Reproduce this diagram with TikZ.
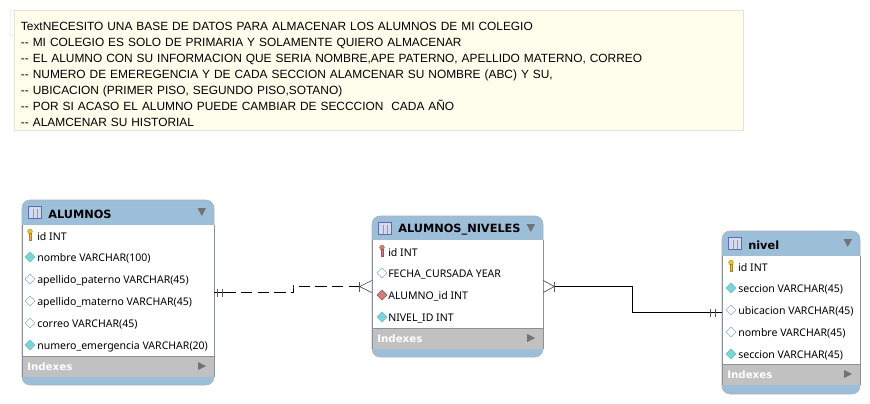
\documentclass[tikz,border=0pt]{standalone}
\usepackage{fontspec}
\setmainfont{Liberation Sans}
\newfontfamily\rowfont{Noto Sans}
\newfontfamily\titlefont{DejaVu Sans}
\usetikzlibrary{calc,fit}
\definecolor{headblue}{HTML}{9BBFD9}
\definecolor{indexgray}{HTML}{C1C1C1}
\definecolor{framegray}{HTML}{8A9096}
\definecolor{notefill}{HTML}{FFFDEC}
\definecolor{noteline}{HTML}{E6E3D3}
\definecolor{attrcyan}{HTML}{6FDADA}
\definecolor{attrred}{HTML}{D97B76}
\definecolor{keyyellow}{HTML}{F0C020}
\definecolor{iconblue}{HTML}{5A6CB8}
\tikzset{
	notebox/.style={draw=noteline, fill=notefill, anchor=north west, inner xsep=5pt, inner ysep=0pt, text width=537pt, minimum height=90pt, align=left, font=\fontsize{8.93pt}{12pt}\selectfont},
	tablebox/.style={fill=headblue, draw=framegray!70, rounded corners=6pt, inner sep=0pt},
	rowtext/.style={anchor=west, inner sep=0pt, yshift=-0.5pt, font=\rowfont\fontsize{7.9pt}{9pt}\selectfont},
	titletext/.style={anchor=west, inner sep=0pt, font=\titlefont\bfseries\fontsize{8.5pt}{10pt}\selectfont},
	indextext/.style={anchor=west, inner sep=0pt, text=white, font=\titlefont\bfseries\fontsize{7.7pt}{10pt}\selectfont},
	link/.style={line width=0.75pt, black},
	dashlink/.style={link, dash pattern=on 8.5pt off 4pt},
	barmark/.style={line width=0.8pt, black!65},
	crowmark/.style={line width=0.5pt, black!70}
}
% x0 y0 x1 yhead yindex y1
\newcommand{\erdtable}[8]{
	\coordinate (#1-nw) at (#2,#3);
	\coordinate (#1-se) at (#4,#7);
	\node (#1) [tablebox, fit=(#1-nw)(#1-se)] {};
	\fill[white] (#2,#5) rectangle (#4,#6);
	\fill[indexgray] (#2,#6) rectangle (#4,#6+21);
	\draw[framegray, line width=0.5pt] (#2,#5) -- (#2,#6+21) (#4,#5) -- (#4,#6+21) (#2,#6) -- (#4,#6);
	% table icon
	\draw[fill=iconblue!25, draw=iconblue, line width=0.6pt] (#2+6.5,#3+6.5) rectangle (#2+19.5,#3+18.5);
	\draw[iconblue!70, line width=0.4pt] (#2+11,#3+9) -- (#2+11,#3+18) (#2+15,#3+9) -- (#2+15,#3+18);
	\node (#1-title) [titletext] at (#2+26,#3+14) {#8};
	\fill[black!55] (#4-16.5,#3+8) -- (#4-8,#3+8) -- (#4-12.2,#3+16) -- cycle;
	\node (#1-index) [indextext] at (#2+5,#6+11) {Indexes};
	\fill[black!55] (#4-16,#6+6) -- (#4-8,#6+10) -- (#4-16,#6+14) -- cycle;
}
\newcommand{\keyicon}[3]{
	\fill[#3, draw=#3!70!black, line width=0.2pt] (#1,#2-4.5) circle (2.4);
	\fill[#3, draw=#3!70!black, line width=0.2pt] (#1-0.9,#2-3) rectangle (#1+0.9,#2+4);
}
\newcommand{\diamicon}[4][framegray!50!attrcyan]{
	\draw[fill=#4, draw=#1, line width=0.5pt] (#2-5,#3) -- (#2,#3-5) -- (#2+5,#3) -- (#2,#3+5) -- cycle;
}
\begin{document}
\begin{tikzpicture}[x=0.75pt, y=-0.75pt]
	\useasboundingbox (0,0) rectangle (870,403);
	
	%%%%% note %%%%%
	\draw[noteline!50] (10,10) rectangle (40,35);
	\node (note) [notebox] at (14,10) {\rule{0pt}{12.5pt}TextNECESITO UNA BASE DE DATOS PARA ALMACENAR LOS ALUMNOS DE MI COLEGIO\\
		-{}- MI COLEGIO ES SOLO DE PRIMARIA Y SOLAMENTE QUIERO ALMACENAR\\
		-{}- EL ALUMNO CON SU INFORMACION QUE SERIA NOMBRE,APE PATERNO, APELLIDO MATERNO, CORREO\\
		-{}- NUMERO DE EMEREGENCIA Y DE CADA SECCION ALAMCENAR SU NOMBRE (ABC) Y SU,\\
		-{}- UBICACION (PRIMER PISO, SEGUNDO PISO,SOTANO)\\
		-{}- POR SI ACASO EL ALUMNO PUEDE CAMBIAR DE SECCCION\ \ CADA AÑO\\
		-{}- ALAMCENAR SU HISTORIAL};
	
	%%%%% tables %%%%%
	\erdtable{alumnos}{22}{200}{214}{225}{356}{385}{ALUMNOS}
	\erdtable{niveles}{372}{216}{543}{240}{328}{357}{ALUMNOS\_NIVELES}
	\erdtable{nivel}{722}{231}{860}{256}{364}{394}{nivel}
	
	\keyicon{30}{236}{keyyellow}
	\diamicon{30}{257}{attrcyan}
	\diamicon{30}{279}{white}
	\diamicon{30}{301}{white}
	\diamicon{30}{323}{white}
	\diamicon{30}{345}{attrcyan}
	\node (alumnos-a) [rowtext] at (37,236) {id INT};
	\node (alumnos-b) [rowtext] at (37,258) {nombre VARCHAR(100)};
	\node (alumnos-c) [rowtext] at (37,280) {apellido\_paterno VARCHAR(45)};
	\node (alumnos-d) [rowtext] at (37,302) {apellido\_materno VARCHAR(45)};
	\node (alumnos-e) [rowtext] at (37,324) {correo VARCHAR(45)};
	\node (alumnos-f) [rowtext] at (37,346) {numero\_emergencia VARCHAR(20)};
	
	\keyicon{382}{252}{attrred}
	\diamicon{382}{273}{white}
	\diamicon[attrred!70!black]{382}{295}{attrred}
	\diamicon{382}{317}{attrcyan}
	\node (niveles-a) [rowtext] at (388,252) {id INT};
	\node (niveles-b) [rowtext] at (388,274) {FECHA\_CURSADA YEAR};
	\node (niveles-c) [rowtext] at (388,296) {ALUMNO\_id INT};
	\node (niveles-d) [rowtext] at (388,318) {NIVEL\_ID INT};
	
	\keyicon{731}{267}{keyyellow}
	\diamicon{731}{288}{attrcyan}
	\diamicon{731}{310}{white}
	\diamicon{731}{332}{white}
	\diamicon{731}{354}{attrcyan}
	\node (nivel-a) [rowtext] at (738,267) {id INT};
	\node (nivel-b) [rowtext] at (738,289) {seccion VARCHAR(45)};
	\node (nivel-c) [rowtext] at (738,311) {ubicacion VARCHAR(45)};
	\node (nivel-d) [rowtext] at (738,333) {nombre VARCHAR(45)};
	\node (nivel-e) [rowtext] at (738,355) {seccion VARCHAR(45)};
	
	%%%%% connectors %%%%%
	\coordinate (bend-a) at (293,285);
	\coordinate (bend-b) at (632,300);
	\coordinate (bar-a) at ($(alumnos.east)+(10,0)$);
	\coordinate (bar-b) at ($(niveles.west)+(-12,0)$);
	\coordinate (bar-c) at ($(niveles.east)+(11,0)$);
	\coordinate (bar-d) at ($(nivel.west)+(-11,0)$);
	
	\draw[link] (alumnos.east) -- (bar-a);
	\draw[dashlink] (bar-a) -| (bend-a) |- (bar-b);
	\draw[link] (bar-c) -| (bend-b) |- (nivel.west);
	
	\draw[barmark] ($(bar-a)+(-7,-4)$) -- ++(0,8) ($(bar-a)+(-2,-4)$) -- ++(0,8);
	\draw[barmark] ($(bar-d)+(0,-4)$) -- ++(0,8) ($(bar-d)+(5,-4)$) -- ++(0,8);
	\draw[barmark] ($(bar-b)+(0,-5)$) -- ++(0,10);
	\draw[barmark] ($(bar-c)+(0,-5)$) -- ++(0,10);
	\draw[crowmark] ($(niveles.west)+(0,-6)$) -- (bar-b) -- ($(niveles.west)+(0,6)$);
	\draw[crowmark] ($(niveles.east)+(0,-6)$) -- (bar-c) -- ($(niveles.east)+(0,6)$);
\end{tikzpicture}
\end{document}
